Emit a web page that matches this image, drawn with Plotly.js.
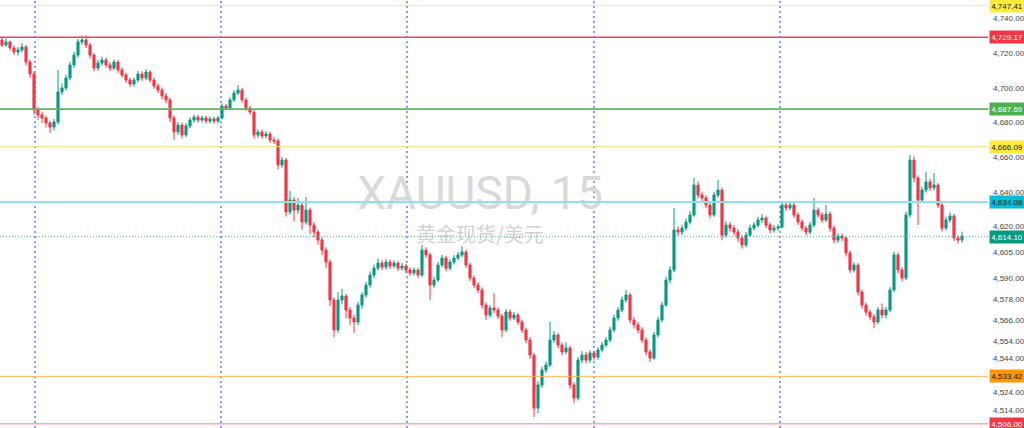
<!DOCTYPE html>
<html><head><meta charset="utf-8">
<script src="https://cdn.plot.ly/plotly-3.0.1.min.js"></script>
<style>html,body{margin:0;padding:0;background:#fff;}#chart{width:1024px;height:428px;}</style>
</head><body><div id="chart"></div>
<script>
// XAUUSD 15-minute candles
const openP = [4727.6,
4724.7,4726.5,4723.0,4720.7,4721.8,4723.6,4714.9,4708.0,4687.2,4684.3,
4682.6,4679.7,4677.4,4680.3,4697.6,4699.9,4705.7,4713.2,4718.9,4726.5,
4727.6,4724.7,4718.9,4711.4,4714.3,4716.1,4713.2,4711.4,4714.9,4710.3,
4707.4,4704.5,4702.2,4704.5,4708.0,4705.7,4709.1,4704.5,4701.0,4698.7,
4695.3,4693.0,4682.6,4674.5,4678.5,4672.8,4678.0,4681.4,4683.1,4681.4,
4682.6,4680.8,4682.0,4680.8,4682.6,4689.5,4688.3,4693.0,4697.0,4698.7,
4693.0,4688.3,4686.0,4672.8,4674.5,4672.2,4673.3,4669.9,4669.3,4655.4,
4658.3,4628.3,4635.2,4629.4,4632.3,4622.5,4629.4,4620.8,4616.7,4612.1,
4606.3,4599.4,4577.5,4560.2,4577.5,4579.8,4571.7,4567.1,4564.8,4574.6,
4580.4,4586.1,4591.9,4595.9,4598.8,4596.5,4599.4,4597.1,4598.8,4595.9,
4597.1,4594.8,4593.1,4594.8,4591.9,4606.3,4603.5,4586.1,4589.0,4597.7,
4601.7,4595.9,4599.4,4601.7,4603.5,4605.2,4597.7,4590.2,4586.1,4583.3,
4574.6,4568.8,4572.9,4571.7,4568.2,4560.2,4570.6,4567.1,4568.8,4564.8,
4560.2,4554.4,4545.7,4515.1,4528.4,4537.1,4540.0,4554.4,4557.3,4551.5,
4547.5,4549.8,4528.4,4520.9,4542.8,4545.7,4542.8,4546.9,4544.6,4548.6,
4551.5,4554.4,4560.2,4567.1,4571.7,4577.5,4580.4,4565.9,4563.1,4560.2,
4554.4,4547.5,4544.0,4557.3,4565.9,4574.6,4589.0,4594.8,4617.9,4616.7,
4619.0,4622.5,4626.6,4643.9,4638.1,4636.4,4632.3,4626.6,4638.1,4641.0,
4615.0,4620.8,4619.0,4616.7,4613.3,4609.2,4615.0,4619.0,4620.8,4623.7,
4624.8,4620.8,4617.9,4619.0,4619.6,4632.3,4630.6,4632.3,4626.6,4622.5,
4619.0,4616.7,4620.8,4629.4,4626.6,4623.7,4627.1,4619.0,4612.1,4614.4,
4613.3,4604.6,4594.8,4597.7,4582.1,4574.6,4570.5,4567.7,4564.8,4571.7,
4568.8,4571.7,4583.3,4603.5,4594.8,4590.2,4626.6,4658.3,4648.0,4635.2,
4641.0,4645.6,4642.2,4643.9,4632.3,4619.0,4623.7,4626.0,4613.3,4612.1];

const highP = [
4729.0,4728.5,4727.3,4724.5,4723.5,4725.8,4724.8,4716.3,4709.5,4689.0,
4686.2,4684.0,4681.0,4682.0,4710.3,4702.5,4707.6,4715.0,4720.8,4728.2,
4730.0,4730.5,4726.0,4720.0,4716.0,4718.0,4717.5,4714.8,4716.5,4716.0,
4711.8,4708.8,4705.8,4706.0,4709.8,4709.5,4710.8,4710.2,4706.0,4702.5,
4700.2,4697.0,4694.5,4684.0,4680.2,4679.8,4679.6,4683.0,4684.6,4684.5,
4684.0,4683.9,4683.5,4683.2,4684.0,4691.0,4690.8,4694.5,4698.5,4701.6,
4700.0,4694.2,4689.5,4687.0,4676.0,4675.8,4675.0,4674.5,4671.5,4670.5,
4660.0,4659.5,4640.5,4637.0,4636.5,4633.8,4637.0,4631.0,4622.5,4618.2,
4613.8,4608.0,4600.8,4579.0,4582.0,4584.0,4581.0,4573.5,4569.0,4576.5,
4582.0,4588.0,4594.0,4598.0,4601.5,4600.5,4601.2,4600.8,4600.5,4600.0,
4598.8,4598.5,4596.2,4596.4,4596.0,4609.2,4608.0,4604.8,4591.0,4599.5,
4603.6,4603.0,4601.0,4603.5,4605.2,4608.6,4606.5,4599.0,4591.8,4587.8,
4584.8,4576.0,4574.5,4581.5,4573.2,4569.5,4572.3,4572.0,4570.5,4570.0,
4566.3,4561.6,4556.0,4547.0,4530.5,4539.0,4542.0,4564.8,4559.6,4558.5,
4553.0,4553.2,4551.0,4530.0,4544.5,4548.0,4547.5,4548.5,4548.0,4550.2,
4553.3,4556.2,4562.0,4569.0,4573.5,4579.5,4583.3,4581.8,4567.8,4564.8,
4561.8,4556.0,4549.0,4559.0,4567.8,4576.5,4591.0,4597.0,4630.6,4620.0,
4621.0,4624.5,4628.8,4648.0,4646.0,4640.0,4638.0,4634.0,4640.0,4646.8,
4642.5,4623.0,4622.6,4620.8,4618.5,4615.0,4616.8,4621.0,4622.6,4625.6,
4627.0,4626.2,4622.3,4620.8,4621.2,4634.0,4634.0,4634.5,4633.6,4628.0,
4624.0,4620.5,4622.5,4636.4,4631.0,4628.0,4632.3,4628.5,4620.5,4616.0,
4616.0,4614.5,4606.0,4599.3,4598.8,4583.5,4576.0,4572.0,4569.5,4573.5,
4575.5,4573.5,4585.0,4605.5,4605.0,4596.5,4628.5,4661.2,4660.5,4649.5,
4643.0,4651.4,4647.5,4650.8,4645.0,4633.5,4625.5,4628.0,4627.3,4614.8,
4617.0];

const lowP = [
4723.5,4723.8,4721.5,4719.0,4718.6,4720.4,4713.0,4705.6,4684.5,4681.5,
4679.8,4677.2,4673.9,4675.5,4679.0,4695.8,4698.5,4704.2,4711.5,4717.5,
4724.9,4723.0,4717.0,4709.5,4709.8,4712.8,4711.5,4709.6,4710.2,4708.6,
4705.8,4702.9,4700.5,4700.8,4703.2,4704.0,4704.5,4703.0,4699.4,4697.0,
4693.5,4691.2,4680.3,4669.9,4672.8,4670.8,4671.5,4676.6,4680.0,4679.9,
4680.0,4679.4,4679.5,4679.2,4679.5,4681.8,4687.0,4687.2,4692.0,4695.8,
4691.5,4686.8,4684.5,4670.5,4671.2,4670.5,4670.8,4668.2,4667.5,4653.0,
4653.8,4625.6,4626.8,4623.0,4627.0,4618.0,4621.0,4615.5,4613.5,4609.5,
4603.5,4596.0,4574.0,4556.1,4558.5,4575.0,4567.0,4563.0,4558.4,4563.0,
4572.5,4578.8,4584.6,4590.2,4594.5,4594.8,4595.0,4595.5,4595.8,4594.2,
4594.5,4593.0,4591.4,4591.8,4590.0,4590.8,4601.8,4577.5,4584.5,4588.0,
4596.5,4594.0,4594.6,4598.0,4600.5,4602.2,4596.0,4588.5,4584.3,4581.5,
4572.5,4565.9,4567.5,4570.0,4566.5,4556.1,4559.0,4565.5,4565.8,4563.0,
4558.5,4552.5,4543.5,4509.9,4512.0,4526.8,4535.5,4538.8,4552.8,4549.6,
4545.5,4546.2,4526.0,4518.0,4519.5,4541.0,4540.8,4541.2,4543.0,4543.0,
4547.2,4550.2,4553.0,4558.8,4565.5,4570.5,4576.0,4564.0,4561.0,4558.2,
4552.5,4545.5,4541.7,4543.0,4556.0,4564.5,4573.5,4587.0,4593.5,4614.5,
4615.0,4617.5,4621.0,4625.5,4636.2,4634.5,4630.5,4624.5,4625.5,4636.5,
4612.0,4613.5,4617.0,4614.8,4611.0,4607.2,4608.0,4613.8,4617.5,4619.5,
4622.0,4619.0,4616.0,4616.5,4617.5,4618.8,4629.0,4629.5,4625.0,4620.8,
4617.2,4614.8,4615.5,4619.5,4625.0,4622.0,4622.5,4617.0,4610.0,4610.5,
4611.5,4602.5,4593.0,4593.5,4580.0,4572.5,4568.5,4565.8,4561.3,4563.5,
4567.0,4566.8,4570.5,4582.0,4592.8,4588.2,4589.0,4625.0,4645.5,4620.8,
4633.5,4639.5,4640.5,4640.8,4630.5,4617.0,4617.8,4622.2,4611.5,4609.8,
4610.5];

const closeP = [
4724.7,4726.5,4723.0,4720.7,4721.8,4723.6,4714.9,4708.0,4687.2,4684.3,
4682.6,4679.7,4677.4,4680.3,4697.6,4699.9,4705.7,4713.2,4718.9,4726.5,
4727.6,4724.7,4718.9,4711.4,4714.3,4716.1,4713.2,4711.4,4714.9,4710.3,
4707.4,4704.5,4702.2,4704.5,4708.0,4705.7,4709.1,4704.5,4701.0,4698.7,
4695.3,4693.0,4682.6,4674.5,4678.5,4672.8,4678.0,4681.4,4683.1,4681.4,
4682.6,4680.8,4682.0,4680.8,4682.6,4689.5,4688.3,4693.0,4697.0,4698.7,
4693.0,4688.3,4686.0,4672.8,4674.5,4672.2,4673.3,4669.9,4669.3,4655.4,
4658.3,4628.3,4635.2,4629.4,4632.3,4622.5,4629.4,4620.8,4616.7,4612.1,
4606.3,4599.4,4577.5,4560.2,4577.5,4579.8,4571.7,4567.1,4564.8,4574.6,
4580.4,4586.1,4591.9,4595.9,4598.8,4596.5,4599.4,4597.1,4598.8,4595.9,
4597.1,4594.8,4593.1,4594.8,4591.9,4606.3,4603.5,4586.1,4589.0,4597.7,
4601.7,4595.9,4599.4,4601.7,4603.5,4605.2,4597.7,4590.2,4586.1,4583.3,
4574.6,4568.8,4572.9,4571.7,4568.2,4560.2,4570.6,4567.1,4568.8,4564.8,
4560.2,4554.4,4545.7,4515.1,4528.4,4537.1,4540.0,4554.4,4557.3,4551.5,
4547.5,4549.8,4528.4,4520.9,4542.8,4545.7,4542.8,4546.9,4544.6,4548.6,
4551.5,4554.4,4560.2,4567.1,4571.7,4577.5,4580.4,4565.9,4563.1,4560.2,
4554.4,4547.5,4544.0,4557.3,4565.9,4574.6,4589.0,4594.8,4617.9,4616.7,
4619.0,4622.5,4626.6,4643.9,4638.1,4636.4,4632.3,4626.6,4638.1,4641.0,
4615.0,4620.8,4619.0,4616.7,4613.3,4609.2,4615.0,4619.0,4620.8,4623.7,
4624.8,4620.8,4617.9,4619.0,4619.6,4632.3,4630.6,4632.3,4626.6,4622.5,
4619.0,4616.7,4620.8,4629.4,4626.6,4623.7,4627.1,4619.0,4612.1,4614.4,
4613.3,4604.6,4594.8,4597.7,4582.1,4574.6,4570.5,4567.7,4564.8,4571.7,
4568.8,4571.7,4583.3,4603.5,4594.8,4590.2,4626.6,4658.3,4648.0,4635.2,
4641.0,4645.6,4642.2,4643.9,4632.3,4619.0,4623.7,4626.0,4613.3,4612.1,
4614.1];

// horizontal price levels drawn on the chart
const levelPrices = [4747.41, 4729.17, 4687.69, 4666.09, 4634.08, 4614.10, 4533.42, 4506.00];
// session separators (candle index positions)
const sessionBreaks = [8.25, 54.75, 101.25, 148, 194.5];
// price-axis tick labels
const axisTicks = [4740, 4720, 4700, 4680, 4660, 4640, 4620, 4605, 4590, 4578, 4566, 4554, 4544, 4524, 4514];
const watermarkText = ['XAUUSD, 15', '黄金现货/美元'];

const levelStyle = [
  {line:'#f6e98a', w:1,   dash:'solid',   bg:'#ffeb3b', fg:'#131722'},
  {line:'#f04653', w:1.6, dash:'solid',   bg:'#f23645', fg:'#ffffff'},
  {line:'#5cb85f', w:1.6, dash:'solid',   bg:'#4caf50', fg:'#ffffff'},
  {line:'#f6e98a', w:1,   dash:'solid',   bg:'#ffeb3b', fg:'#131722'},
  {line:'#8fe2ec', w:2,   dash:'solid',   bg:'#00bcd4', fg:'#131722'},
  {line:'#5fbcaa', w:1,   dash:'1px,2px', bg:'#089981', fg:'#ffffff'},
  {line:'#ffb74d', w:1,   dash:'solid',   bg:'#ff9800', fg:'#131722'},
  {line:'#f7848a', w:1,   dash:'solid',   bg:'#f23645', fg:'#ffffff'}
];

const fmt = v => v.toLocaleString('en-US', {minimumFractionDigits:2, maximumFractionDigits:2});
const idx = closeP.map((_, i) => i);

const shapes = [];
sessionBreaks.forEach(v => shapes.push({type:'line', xref:'x', yref:'paper', x0:v, x1:v, y0:0, y1:1,
  line:{color:'#2962ff', width:1.2, dash:'2px,3px'}, layer:'below'}));
levelPrices.forEach((p, k) => shapes.push({type:'line', xref:'paper', yref:'y', x0:0, x1:1, y0:p, y1:p,
  line:{color:levelStyle[k].line, width:levelStyle[k].w, dash:levelStyle[k].dash}, layer:'above'}));

const annotations = levelPrices.map((p, k) => ({
  xref:'paper', x:1, xanchor:'left', xshift:1, yref:'y', y:p, yanchor:'middle',
  text:fmt(p), showarrow:false, bgcolor:levelStyle[k].bg, borderpad:1.5, width:31, align:'center',
  font:{family:'Liberation Sans, Arial, sans-serif', size:8, color:levelStyle[k].fg}
}));

const traces = [
  {type:'scatter', mode:'text', x:[119.5, 119.5], y:[4636.4, 4613.9], text:watermarkText,
   textposition:'middle center', hoverinfo:'skip', showlegend:false, cliponaxis:false,
   textfont:{family:['Roboto, sans-serif', 'Noto Sans CJK SC, sans-serif'], size:[46, 20], color:['#d9d9d9', '#d2d2d2']}},
  {type:'candlestick', x:idx, open:openP, high:highP, low:lowP, close:closeP,
   increasing:{line:{color:'#089981', width:1}, fillcolor:'#089981'},
   decreasing:{line:{color:'#f23645', width:1}, fillcolor:'#f23645'},
   whiskerwidth:0, hoverinfo:'skip', showlegend:false}
];

const layout = {
  width:1024, height:428, margin:{l:0, r:36, t:0, b:0, pad:0},
  paper_bgcolor:'#ffffff', plot_bgcolor:'#ffffff', showlegend:false, boxgap:0.25,
  xaxis:{range:[-0.5, 246.5], visible:false, rangeslider:{visible:false}, fixedrange:true},
  yaxis:{range:[4503.6, 4750.7], side:'right', showgrid:false, zeroline:false, showline:false,
    tickvals:axisTicks, ticktext:axisTicks.map(fmt), ticks:'', ticklabelstandoff:4,
    tickfont:{family:'Liberation Sans, Arial, sans-serif', size:8, color:'#444444'}, fixedrange:true},
  shapes:shapes, annotations:annotations
};

Plotly.newPlot('chart', traces, layout, {displayModeBar:false, staticPlot:true});
</script></body></html>
